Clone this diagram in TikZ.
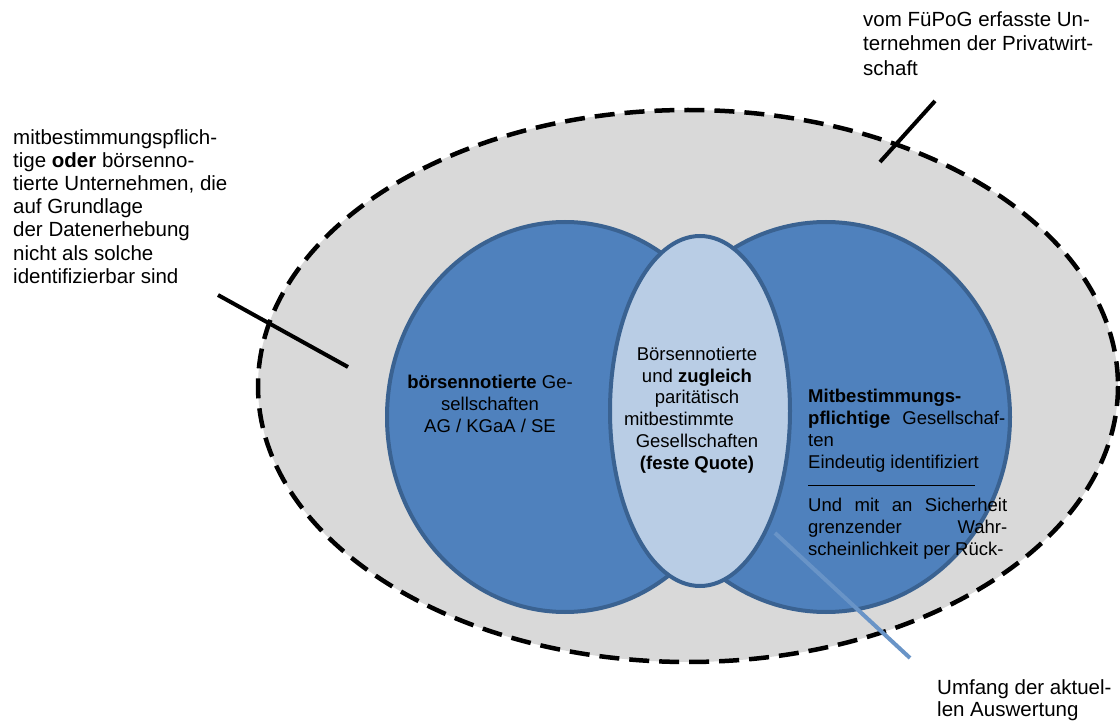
\documentclass[tikz,border=0pt]{standalone}
\usepackage{fontspec}
\setmainfont{Liberation Sans}
\definecolor{outergray}{HTML}{D9D9D9}
\definecolor{setblue}{HTML}{4F81BD}
\definecolor{setedge}{HTML}{3A6291}
\definecolor{cutblue}{HTML}{B9CDE5}
\tikzset{
  biglabel/.style={inner sep=0pt, align=left, font=\fontsize{20.5}{22.5}\selectfont},
  setlabel/.style={inner sep=0pt, font=\fontsize{18.5}{21.8}\selectfont},
  pointer/.style={line width=4pt},
}
\begin{document}
\begin{tikzpicture}[x=1pt,y=-1pt]
		\useasboundingbox (0,0) rectangle (1120,722);
		% sets
		\draw[fill=outergray, line width=4.5pt, draw=black, dash pattern=on 20pt off 10pt] (688,386) ellipse [x radius=430, y radius=276];
		\draw[fill=setblue, draw=setedge, line width=4pt] (565,417) ellipse [x radius=178, y radius=195];
		\draw[fill=setblue, draw=setedge, line width=4pt] (826,417) ellipse [x radius=184, y radius=195];
		\draw[fill=cutblue, draw=setedge, line width=4pt] (700,411) ellipse [x radius=90, y radius=175];
		
		% labels outside
		\node[biglabel, anchor=north west, font=\fontsize{20.5}{24.5}\selectfont] (fupog) at (863,11) {vom FüPoG erfasste Un-\\ternehmen der Privatwirt-\\schaft};
		\node[biglabel, anchor=north west, font=\fontsize{20.5}{23.2}\selectfont] (unknown) at (13,129) {mitbestimmungspflich-\\tige \textbf{oder} börsenno-\\tierte Unternehmen, die\\auf Grundlage\\der Datenerhebung\\nicht als solche\\identifizierbar sind};
		\node[biglabel, anchor=north west] (scope) at (937,679) {Umfang der aktuel-\\len Auswertung};
		
		% labels inside
		\node[setlabel, align=center] (listed) at (490,404) {\textbf{börsennotierte} Ge-\\sellschaften\\AG / KGaA / SE};
		\node[setlabel, align=center] (both) at (697,410) {Börsennotierte\\und \textbf{zugleich}\\paritätisch\\mitbestimmte\hspace*{36pt}\mbox{}\\Gesellschaften\\\textbf{(feste Quote)}};
		\node[setlabel, align=left, anchor=north west] (codet) at (808,389) {\textbf{Mitbestimmungs-}\\\hbox to 197pt{\textbf{pflichtige}\hfill Gesellschaf-}\\ten\\Eindeutig identifiziert\\\rule[4pt]{167pt}{0.8pt}\\\hbox to 199pt{Und\hfill mit\hfill an\hfill Sicherheit}\\\hbox to 199pt{grenzender\hfill Wahr-}\\scheinlichkeit per Rück-};
		
		% pointers
		\coordinate (fupog tip) at (880,162);
		\coordinate (fupog end) at (935,101);
		\coordinate (unknown tip) at (348,367);
		\coordinate (unknown end) at (218,295);
		\coordinate (scope tip) at (775,533);
		\coordinate (scope end) at (910,658);
		\draw[pointer] (fupog end)--(fupog tip);
		\draw[pointer] (unknown end)--(unknown tip);
		\draw[pointer, setblue!85!white] (scope tip)--(scope end);
	\end{tikzpicture}
\end{document}
